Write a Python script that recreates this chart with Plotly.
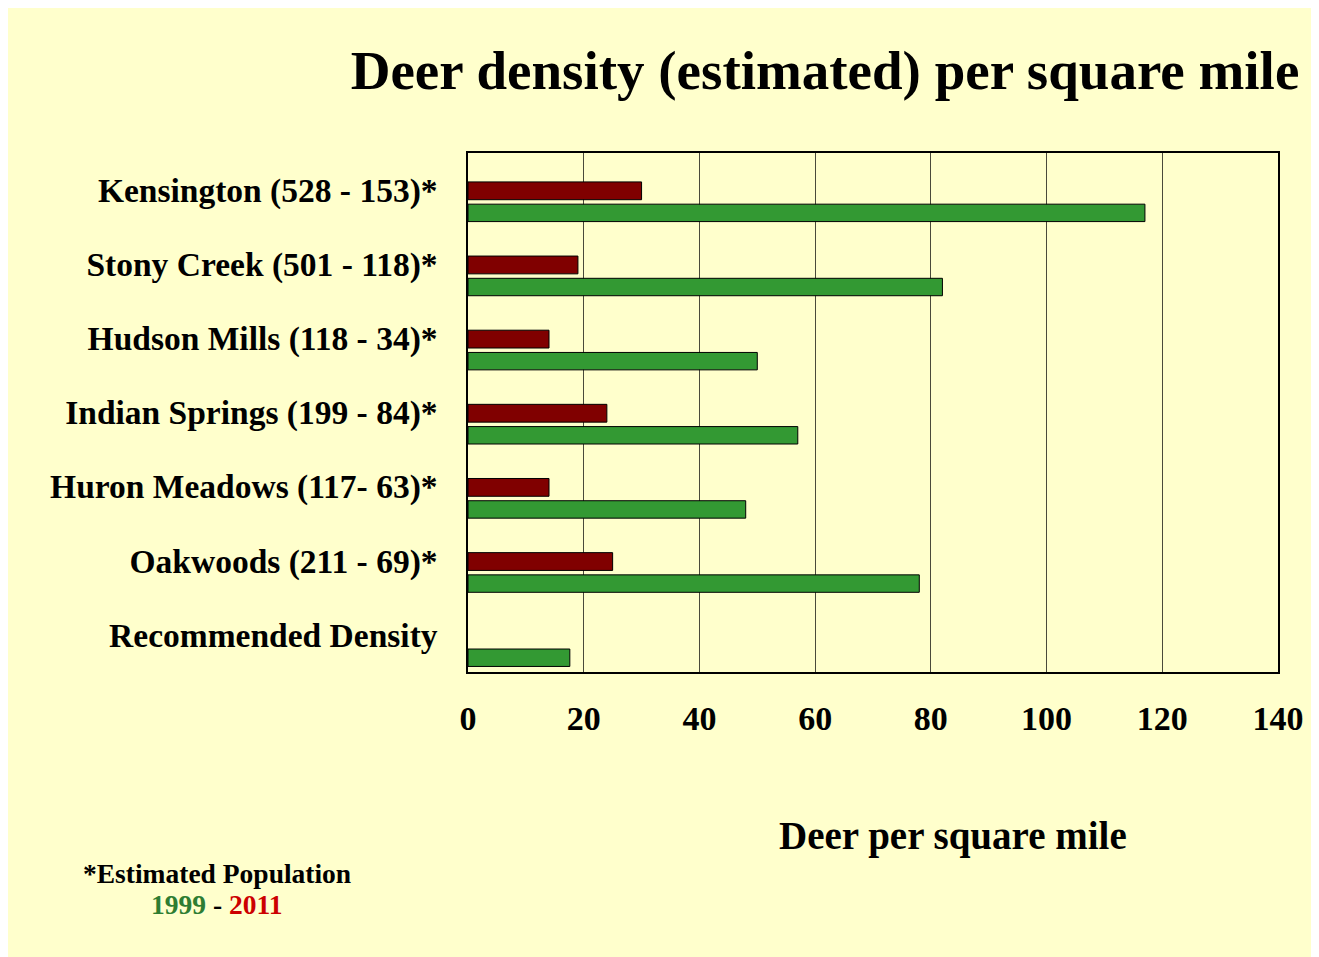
import plotly.graph_objects as go

categories = [
    "Kensington (528 - 153)*",
    "Stony Creek (501 - 118)*",
    "Hudson Mills (118 - 34)*",
    "Indian Springs (199 - 84)*",
    "Huron Meadows (117- 63)*",
    "Oakwoods (211 - 69)*",
    "Recommended Density",
]
density_1999 = [117, 82, 50, 57, 48, 78, 17.6]
density_2011 = [30, 19, 14, 24, 14, 25, None]
x_ticks = [0, 20, 40, 60, 80, 100, 120, 140]

BG = "#FFFFCC"
FONT = "Liberation Serif, Times New Roman, serif"

fig = go.Figure()
fig.add_trace(go.Bar(
    y=categories, x=density_2011, orientation="h", name="2011",
    marker=dict(color="#800000", line=dict(color="black", width=1)),
    width=0.24, offset=-0.11,
))
fig.add_trace(go.Bar(
    y=categories, x=density_1999, orientation="h", name="1999",
    marker=dict(color="#339933", line=dict(color="black", width=1)),
    width=0.235, offset=0.19,
))

# page is offset by the browser's 8px body margin
OX, OY = 8, 8
W, H = 1308, 949
L, T = 468 - OX, 153 - OY
R = W - (1278 - OX)
B = H - (672 - OY)
pw, ph = W - L - R, H - T - B

def px_x(p):
    return (p - OX - L) / pw

def px_y(p):
    return (H - B - (p - OY)) / ph

fig.update_layout(
    width=W, height=H,
    margin=dict(l=L, r=R, t=T, b=B, autoexpand=False),
    paper_bgcolor=BG,
    plot_bgcolor=BG,
    barmode="overlay",
    showlegend=False,
    font=dict(family=FONT, color="black"),
    title=dict(
        text="<b>Deer density (estimated) per square mile</b>",
        font=dict(size=55, family=FONT, color="black"),
        x=px_x(825), xref="paper", xanchor="center",
        y=1 - (70 - OY) / H, yref="container", yanchor="middle",
    ),
    xaxis=dict(
        range=[0, 140], tickvals=x_ticks, ticktext=[f"<b>{v}</b>" for v in x_ticks],
        showgrid=True, gridcolor="#4a4a3a", gridwidth=1,
        zeroline=False, showline=True, linecolor="black", linewidth=1.5, mirror=True,
        ticks="", tickfont=dict(size=34, family=FONT, color="black"),
        ticklabelstandoff=15,
        fixedrange=True,
    ),
    yaxis=dict(
        type="category", categoryorder="array", categoryarray=categories,
        range=[6.5, -0.5],
        tickvals=categories, ticktext=[f"<b>{c}</b>" for c in categories],
        showgrid=False, zeroline=False, showline=True, linecolor="black", linewidth=1.5, mirror=True,
        ticks="", tickfont=dict(size=33.5, family=FONT, color="black"),
        ticklabelstandoff=22,
        fixedrange=True,
    ),
)

fig.add_annotation(
    text="<b>Deer per square mile</b>", xref="paper", yref="paper",
    x=px_x(953), y=px_y(836), xanchor="center", yanchor="middle",
    showarrow=False, font=dict(size=39, family=FONT, color="black"),
)

fig.add_annotation(
    text="<b>*Estimated Population</b>", xref="paper", yref="paper",
    x=px_x(217), y=px_y(873), xanchor="center", yanchor="middle",
    showarrow=False, font=dict(size=27.5, family=FONT, color="black"),
)
fig.add_annotation(
    text="<b><span style='color:#2E7D32'>1999</span> - <span style='color:#CC0000'>2011</span></b>",
    xref="paper", yref="paper",
    x=px_x(217), y=px_y(904), xanchor="center", yanchor="middle",
    showarrow=False, font=dict(size=27.5, family=FONT, color="black"),
)

fig.write_html("out.html")
